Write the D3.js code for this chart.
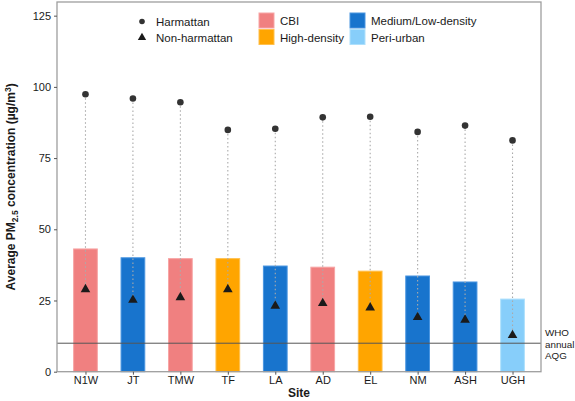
<!DOCTYPE html>
<html><head><meta charset="utf-8">
<script src="https://cdn.jsdelivr.net/npm/d3@7"></script>
<style>body{margin:0;background:#fff}svg{display:block;font-family:"Liberation Sans",Arial,sans-serif}</style>
</head><body>
<svg id="c" width="575" height="401"></svg>
<script>
const sites = ["N1W","JT","TMW","TF","LA","AD","EL","NM","ASH","UGH"];
const siteType = ["CBI","Medium/Low-density","CBI","High-density","Medium/Low-density","CBI","High-density","Medium/Low-density","Medium/Low-density","Peri-urban"];
const annualMean = [43.1,40.0,39.7,39.7,37.1,36.7,35.3,33.6,31.5,25.5];
const harmattan = [97.4,95.9,94.6,84.9,85.3,89.3,89.5,84.2,86.4,81.2];
const nonHarmattan = [28.9,25.2,26.1,28.9,23.1,24.0,22.5,19.1,18.2,12.8];
const yTicks = [0,25,50,75,100,125];
const typeNames = ["CBI","High-density","Medium/Low-density","Peri-urban"];
const typeColors = ["#F08080","#FFA500","#1874CD","#87CEFA"];
const typeStroke = ["#f7a5a5","#ffc04d","#4a95e0","#aee0fc"];
const whoAQG = 10;

const svg = d3.select("#c");
const L=57, R=541, T=2, B=371.7;
const x = d3.scalePoint().domain(sites).range([L, R]).padding(0.6);
const y = d3.scaleLinear().domain([0,129.8]).range([B,T]);
const color = d3.scaleOrdinal().domain(typeNames).range(typeColors);
const stroke = d3.scaleOrdinal().domain(typeNames).range(typeStroke);
const bw = x.step()*0.5;
const cx = d => x(d);

// bars
svg.append("g").selectAll("rect").data(sites).join("rect")
  .attr("x",(d)=>cx(d)-bw/2).attr("width",bw)
  .attr("y",(d,i)=>y(annualMean[i])).attr("height",(d,i)=>B-y(annualMean[i]))
  .attr("fill",(d,i)=>color(siteType[i])).attr("stroke",(d,i)=>stroke(siteType[i])).attr("stroke-width",1);

// WHO line
svg.append("line").attr("x1",L).attr("x2",R).attr("y1",y(whoAQG)).attr("y2",y(whoAQG))
  .attr("stroke","#555").attr("stroke-width",1);

// dotted segments
svg.append("g").selectAll("line").data(sites).join("line")
  .attr("x1",d=>cx(d)).attr("x2",d=>cx(d))
  .attr("y1",(d,i)=>y(harmattan[i])).attr("y2",(d,i)=>y(nonHarmattan[i]))
  .attr("stroke","#aaaaaa").attr("stroke-width",1.1).attr("stroke-dasharray","1.5,2.5");

// circles
svg.append("g").selectAll("circle").data(sites).join("circle")
  .attr("cx",d=>cx(d)).attr("cy",(d,i)=>y(harmattan[i])).attr("r",3.3).attr("fill","#333");

// triangles
const tri = d3.symbol().type(d3.symbolTriangle).size(40);
svg.append("g").selectAll("path").data(sites).join("path")
  .attr("d",tri).attr("transform",(d,i)=>`translate(${cx(d)},${y(nonHarmattan[i])})`)
  .attr("fill","#1a1a1a");

// panel border
svg.append("rect").attr("x",L).attr("y",T).attr("width",R-L).attr("height",B-T)
  .attr("fill","none").attr("stroke","#9e9e9e").attr("stroke-width",1.3);

// y axis
const ya = svg.append("g").attr("transform",`translate(${L},0)`)
  .call(d3.axisLeft(y).tickValues(yTicks).tickSize(3).tickPadding(3));
ya.select(".domain").remove();
ya.selectAll("line").attr("stroke","#555");
ya.selectAll("text").attr("font-size",11).attr("fill","#1a1a1a").attr("font-family","Liberation Sans, Arial, sans-serif");

// x axis
const xa = svg.append("g").attr("transform",`translate(0,${B})`)
  .call(d3.axisBottom(x).tickSize(3).tickPadding(2));
xa.select(".domain").remove();
xa.selectAll("line").attr("stroke","#555");
xa.selectAll("text").attr("font-size",11).attr("fill","#1a1a1a").attr("font-family","Liberation Sans, Arial, sans-serif");

// axis titles
svg.append("text").attr("x",(L+R)/2).attr("y",397).attr("text-anchor","middle")
  .attr("font-size",12).attr("font-weight","bold").attr("fill","#1a1a1a").text("Site");
const yt = svg.append("text").attr("transform",`translate(15,${(T+B)/2}) rotate(-90)`)
  .attr("text-anchor","middle").attr("font-size",12).attr("font-weight","bold").attr("fill","#1a1a1a");
yt.append("tspan").text("Average PM");
yt.append("tspan").attr("font-size",8.5).attr("dy",3).text("2.5");
yt.append("tspan").attr("dy",-3).text(" concentration (µg/m");
yt.append("tspan").attr("font-size",8.5).attr("dy",-4).text("3");
yt.append("tspan").attr("dy",4).text(")");

// WHO label
const who = svg.append("g").attr("font-size",9.8).attr("fill","#1a1a1a");
["WHO","annual","AQG"].forEach((t,i)=>who.append("text").attr("x",545).attr("y",336+i*11.7).text(t));

// legend
const lg = svg.append("g").attr("font-size",11.5).attr("fill","#1a1a1a");
lg.append("circle").attr("cx",142).attr("cy",21.5).attr("r",2.8).attr("fill","#333");
lg.append("path").attr("d",d3.symbol().type(d3.symbolTriangle).size(30)).attr("transform","translate(142,37.5)").attr("fill","#1a1a1a");
lg.append("text").attr("x",156).attr("y",25.5).text("Harmattan");
lg.append("text").attr("x",156).attr("y",41.5).text("Non-harmattan");
const sw = [[259,13,0],[259,29.5,1],[350,13,2],[350,29.5,3]];
sw.forEach(([sx,sy,k])=>{
  lg.append("rect").attr("x",sx).attr("y",sy).attr("width",15).attr("height",15)
    .attr("fill",typeColors[k]).attr("stroke",typeStroke[k]).attr("stroke-width",1);
  lg.append("text").attr("x",sx+21).attr("y",sy+12).text(typeNames[k]);
});
</script>
</body></html>
